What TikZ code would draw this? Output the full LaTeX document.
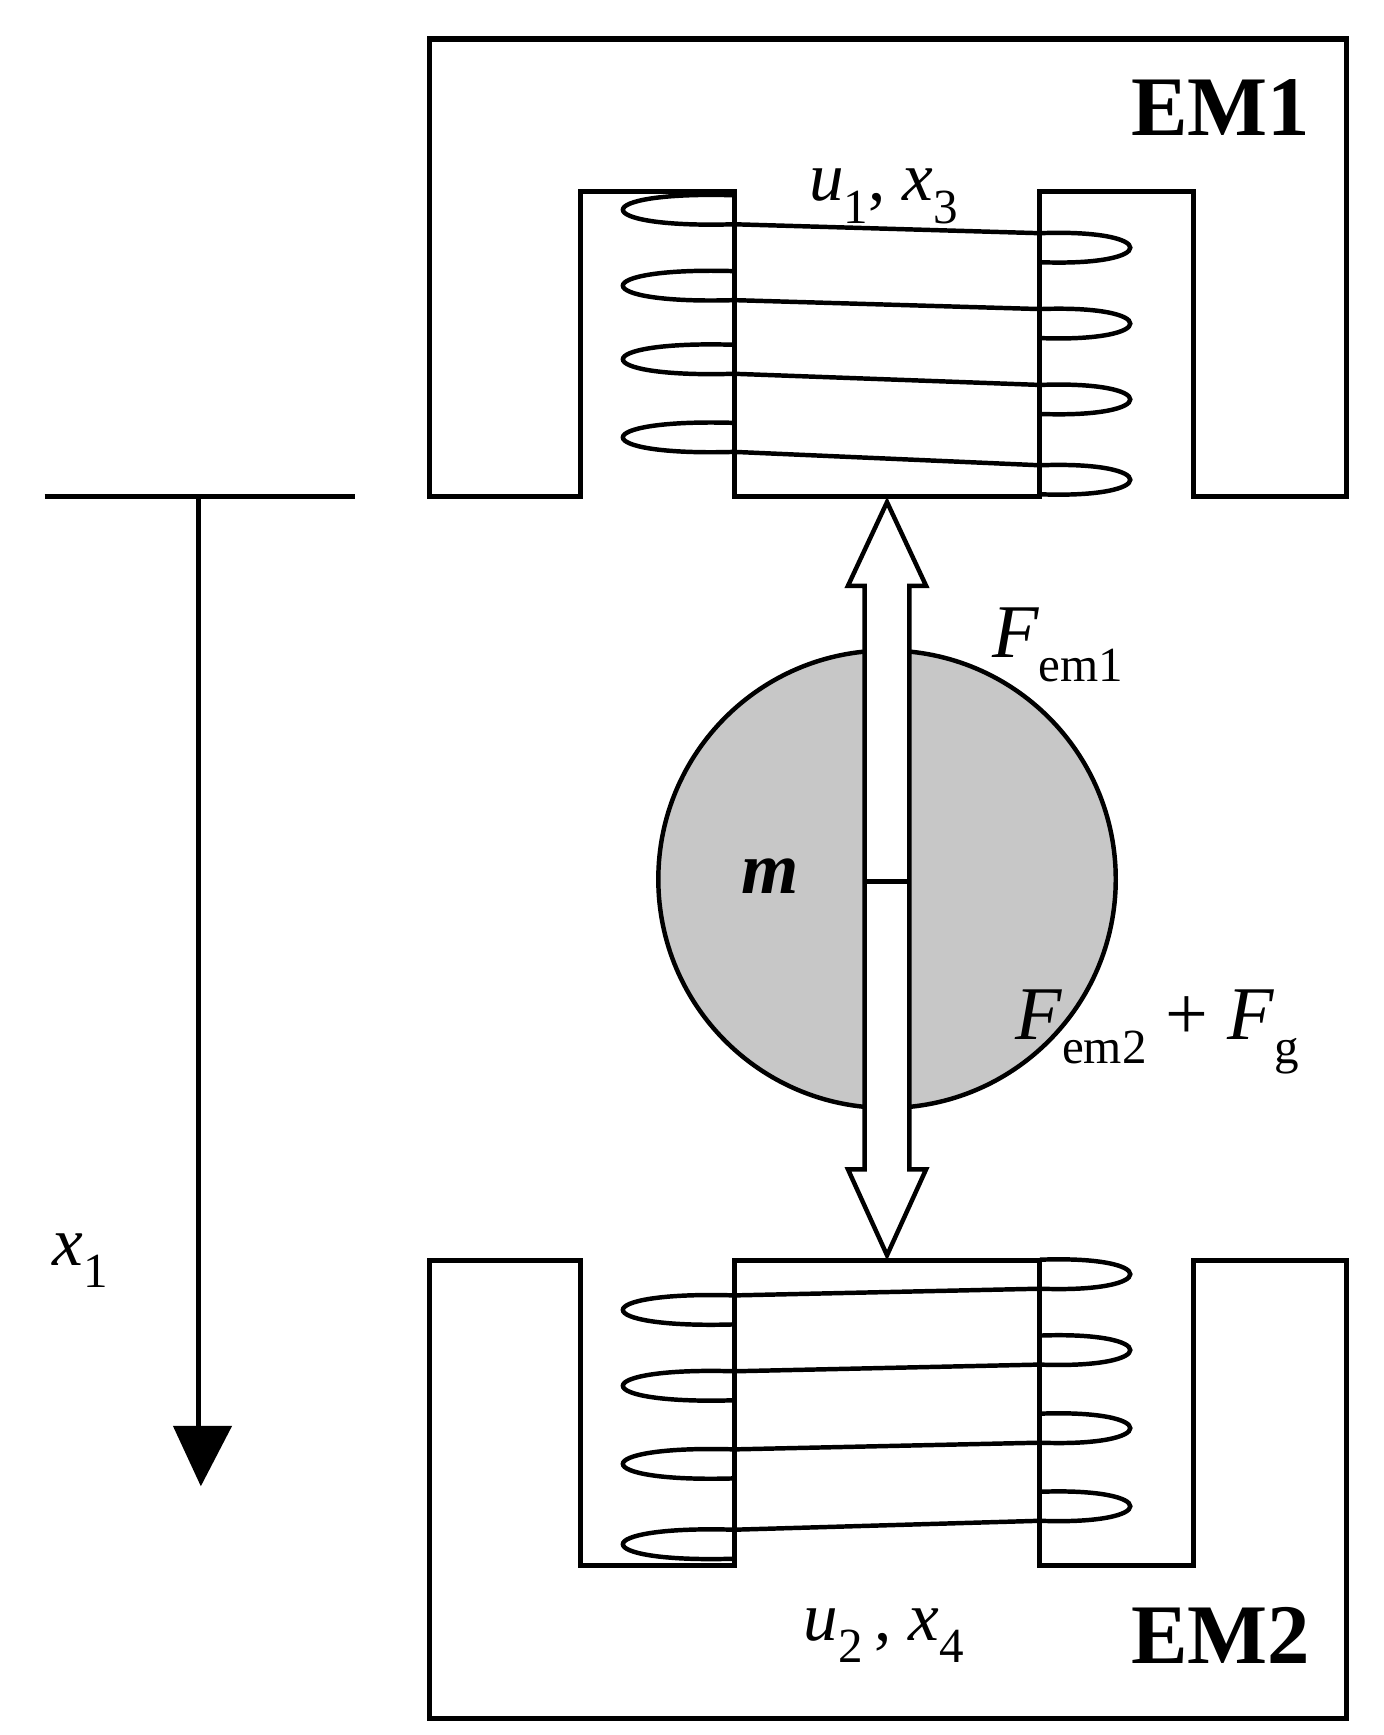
\documentclass[tikz,border=0pt]{standalone}
\usepackage{fontspec}
\setmainfont{Liberation Serif}
\newcommand{\sbs}[1]{\raisebox{-0.32em}{\fontsize{44}{44}\selectfont #1}}
\begin{document}
\begin{tikzpicture}[x=1pt,y=-1pt,line width=4.6pt,line join=miter,
  lab/.style={inner sep=0pt,font=\fontsize{62}{62}\selectfont},
  core/.style={draw=black,line width=4.6pt},
  coil/.style={draw=black,line width=4pt}]
\useasboundingbox (0,0) rectangle (1240,1555);
% EM1
\draw[core] (385,445) -- (385,35) -- (1207,35) -- (1207,445) -- (1070,445) -- (1070,172) -- (932,172) -- (932,445) -- (658,445) -- (658,172) -- (520,172) -- (520,445) -- cycle;
% EM2
\draw[core] (385,1130) -- (385,1540) -- (1207,1540) -- (1207,1130) -- (1070,1130) -- (1070,1403) -- (932,1403) -- (932,1130) -- (658,1130) -- (658,1403) -- (520,1403) -- (520,1130) -- cycle;
% coil 1
\foreach \yl/\yr in {188/222,256/290,322/358,392/430}{
  \draw[coil] (658,\yl-13) .. controls (525,\yl-17) and (525,\yl+17) .. (658,\yl+13)
     -- (932,\yr-13) .. controls (1040,\yr-17) and (1040,\yr+17) .. (932,\yr+13);
}
% coil 2
\foreach \yr/\yl in {1142/1174,1210/1242,1280/1312,1350/1384}{
  \draw[coil] (932,\yr-13) .. controls (1040,\yr-17) and (1040,\yr+17) .. (932,\yr+13)
     -- (658,\yl-13) .. controls (525,\yl-17) and (525,\yl+17) .. (658,\yl+13);
}
% mass
\node[circle,draw=black,fill=black!22,line width=4pt,minimum size=410pt,inner sep=0pt] (m) at (795,788) {};
% double arrow
\draw[line width=4pt,fill=white] (795,450) -- (830,525) -- (815,525) -- (815,1048) -- (830,1048) -- (795,1125) -- (760,1048) -- (775,1048) -- (775,525) -- (760,525) -- cycle;
\draw[line width=4pt] (777,790) -- (813,790);
% axis
\draw[line width=4pt] (40,445) -- (318,445);
\coordinate (a0) at (178,445);
\coordinate (a1) at (178,1282);
\draw[line width=4pt] (a0) -- (a1);
\fill (155,1278) -- (208,1278) -- (180,1332) -- cycle;
% labels
\node[lab,font=\fontsize{76}{76}\selectfont\bfseries] (em1) at (1094,96) {EM1};
\node[lab,font=\fontsize{76}{76}\selectfont\bfseries] (em2) at (1094,1466) {EM2};
\node[lab] (u1) at (792,176) {\textit{u}\sbs{1}, \textit{x}\sbs{3}};
\node[lab] (u2) at (792,1466) {\textit{u}\sbs{2}\,, \textit{x}\sbs{4}};
\node[lab,font=\fontsize{68}{68}\selectfont] (f1) at (948,578) {\textit{F}\sbs{em1}};
\node[lab,font=\fontsize{68}{68}\selectfont] (f2) at (1037,925) {\textit{F}\sbs{em2} + \textit{F}\sbs{g}};
\node[lab,font=\fontsize{66}{66}\selectfont\bfseries\itshape] (mm) at (690,785) {m};
\node[lab] (x1) at (72,1130) {\textit{x}\sbs{1}};
\end{tikzpicture}
\end{document}
